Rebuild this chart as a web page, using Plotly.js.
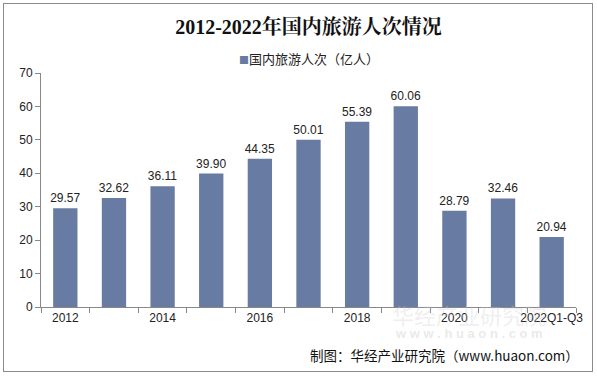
<!DOCTYPE html>
<html>
<head>
<meta charset="utf-8">
<script src="https://cdn.plot.ly/plotly-3.0.1.min.js"></script>
<style>
html,body{margin:0;padding:0;background:#fff;}
#wrap{position:relative;width:597px;height:376px;}
#chart{position:absolute;left:0;top:0;width:597px;height:376px;}
#frame{position:absolute;left:3px;top:3px;width:588px;height:367px;border:1.5px solid #8a8a8a;pointer-events:none;}
</style>
</head>
<body>
<div id="wrap"><div id="chart"></div><div id="frame"></div></div>
<script>
const categories = ['2012','2013','2014','2015','2016','2017','2018','2019','2020','2021','2022Q1-Q3'];
const values = [29.57, 32.62, 36.11, 39.90, 44.35, 50.01, 55.39, 60.06, 28.79, 32.46, 20.94];
const tickLabels = ['2012','2014','2016','2018','2020','2022Q1-Q3'];
const seriesName = '国内旅游人次（亿人）';
const titleText = '2012-2022年国内旅游人次情况';
const sourceText = '制图：华经产业研究院（www.huaon.com）';

const barColor = '#687ba2';
const boundaries = categories.map((c, i) => i - 0.5).concat([categories.length - 0.5]);

const traces = [
  {
    type: 'bar',
    x: categories,
    y: values,
    name: seriesName,
    marker: {color: barColor},
    text: values.map(v => v.toFixed(2)),
    textposition: 'outside',
    constraintext: 'none',
    textfont: {family: 'Liberation Sans, Arial, sans-serif', size: 12, color: '#222'},
    cliponaxis: false,
    showlegend: false,
    hoverinfo: 'skip'
  },
  {
    type: 'scatter',
    mode: 'markers',
    x: boundaries,
    y: boundaries.map(() => null),
    xaxis: 'x2',
    showlegend: false,
    hoverinfo: 'skip'
  }
];

const layout = {
  width: 597,
  height: 376,
  margin: {l: 41, r: 21, t: 73, b: 69},
  paper_bgcolor: '#fff',
  plot_bgcolor: '#fff',
  bargap: 0.5,
  showlegend: false,
  font: {family: 'Liberation Sans, Arial, "Noto Sans CJK SC", sans-serif', size: 12, color: '#222'},
  title: {
    text: titleText,
    x: 0.5, xref: 'paper', xanchor: 'center',
    y: 0.927, yref: 'container', yanchor: 'middle',
    font: {family: '"Liberation Serif", "Noto Serif CJK SC", "Noto Sans CJK SC", serif', size: 20, color: '#111', weight: 'bold'}
  },
  xaxis: {
    type: 'category',
    tickmode: 'array',
    tickvals: tickLabels,
    ticktext: tickLabels,
    ticks: '',
    showline: true,
    linecolor: '#888',
    linewidth: 1,
    showgrid: false,
    zeroline: false,
    tickfont: {family: 'Liberation Sans, Arial, sans-serif', size: 12, color: '#222'},
    range: [-0.5, categories.length - 0.5]
  },
  xaxis2: {
    overlaying: 'x',
    anchor: 'y',
    type: 'linear',
    range: [-0.5, categories.length - 0.5],
    tickmode: 'array',
    tickvals: boundaries,
    ticks: 'outside',
    ticklen: 5,
    tickcolor: '#888',
    showticklabels: false,
    showgrid: false,
    zeroline: false,
    showline: false,
    side: 'bottom'
  },
  yaxis: {
    range: [0, 70],
    dtick: 10,
    ticks: 'outside',
    ticklen: 5,
    tickcolor: '#888',
    showline: true,
    linecolor: '#888',
    linewidth: 1,
    showgrid: false,
    zeroline: false,
    tickfont: {family: 'Liberation Sans, Arial, sans-serif', size: 12, color: '#222'}
  },
  annotations: [
    {
      text: '<span style="color:' + barColor + ';font-size:10px">■</span>' + seriesName,
      xref: 'paper', yref: 'paper',
      x: 0.5, y: 1.06,
      xanchor: 'center', yanchor: 'middle',
      showarrow: false,
      font: {family: '"Noto Sans CJK SC", sans-serif', size: 13, color: '#222'}
    },
    {
      text: '华经产业研究院',
      xref: 'paper', yref: 'paper',
      x: 0.80, y: -0.03,
      xanchor: 'center', yanchor: 'middle',
      showarrow: false,
      font: {family: '"Noto Sans CJK SC", sans-serif', size: 22, color: 'rgba(200,200,200,0.3)'}
    },
    {
      text: 'w w w . h u a o n . c o m',
      xref: 'paper', yref: 'paper',
      x: 0.80, y: -0.115,
      xanchor: 'center', yanchor: 'middle',
      showarrow: false,
      font: {family: 'Liberation Sans, Arial, sans-serif', size: 13, color: 'rgba(200,200,200,0.4)', weight: 'bold'}
    },
    {
      text: sourceText,
      xref: 'paper', yref: 'paper',
      x: 1.01, y: -0.205,
      xanchor: 'right', yanchor: 'middle',
      showarrow: false,
      font: {family: '"Noto Sans CJK SC", sans-serif', size: 13.5, color: '#111'}
    }
  ]
};

Plotly.newPlot('chart', traces, layout, {displayModeBar: false, staticPlot: true});
</script>
</body>
</html>
